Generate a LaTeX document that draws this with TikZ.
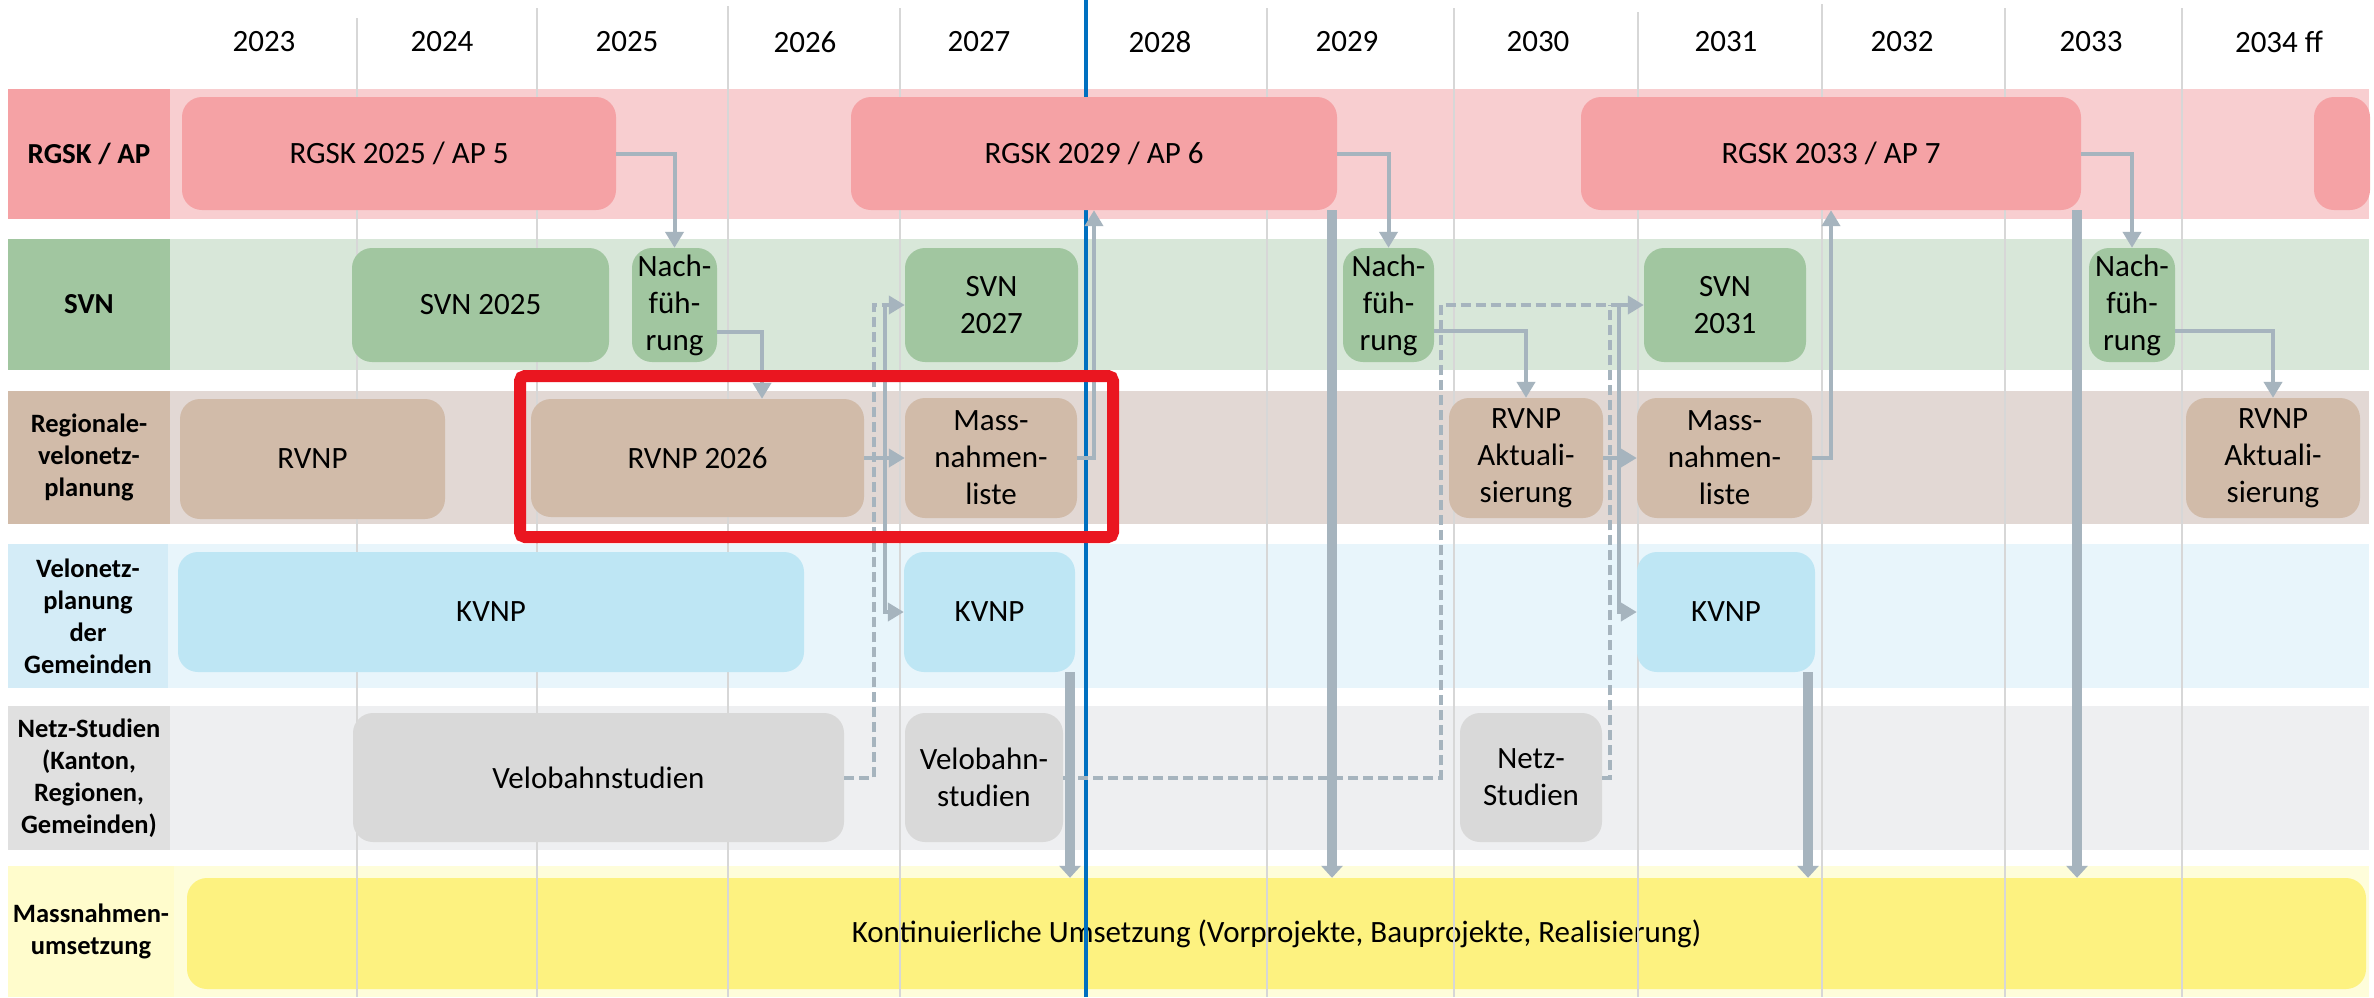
\documentclass[tikz,border=0pt]{standalone}
\usepackage{fontspec}
\setmainfont{Carlito}
\usetikzlibrary{arrows.meta}
\definecolor{rgskband}{RGB}{248,206,208}
\definecolor{rgskbox}{RGB}{245,162,165}
\definecolor{svnband}{RGB}{216,231,217}
\definecolor{svnbox}{RGB}{161,198,160}
\definecolor{rvnpband}{RGB}{226,216,212}
\definecolor{rvnpbox}{RGB}{209,187,169}
\definecolor{kvnpband}{RGB}{232,245,251}
\definecolor{kvnplab}{RGB}{212,236,247}
\definecolor{kvnpbox}{RGB}{190,230,244}
\definecolor{netzband}{RGB}{238,239,241}
\definecolor{netzlab}{RGB}{224,224,224}
\definecolor{netzbox}{RGB}{217,217,217}
\definecolor{massband}{RGB}{254,253,218}
\definecolor{masslab}{RGB}{255,252,204}
\definecolor{massbox}{RGB}{253,242,128}
\definecolor{arrgray}{RGB}{166,180,190}
\definecolor{gridgray}{RGB}{215,215,215}
\definecolor{todayblue}{RGB}{0,112,192}
\definecolor{markred}{RGB}{234,22,32}
\newcommand\boxfnt{\fontsize{31}{37}\selectfont}
\newcommand\labfnt{\fontsize{26.5}{32}\selectfont\bfseries}
\newcommand\labbig{\fontsize{29}{34}\selectfont\bfseries}
\newcommand\mybox[7]{\node[#6, minimum width={(#4)-(#2)}, minimum height={(#5)-(#3)}] (#1) at ({((#2)+(#4))/2},{((#3)+(#5))/2}) {#7};}
\begin{document}
\begin{tikzpicture}[x=1pt,y=-1pt,
  bx/.style={rounded corners=20pt, inner sep=0pt, align=center, font=\boxfnt},
  lb/.style={inner sep=0pt, align=center, font=\labfnt},
  yr/.style={inner sep=0pt, font=\boxfnt},
  gridl/.style={draw=gridgray, line width=2pt},
  arr/.style={draw=arrgray, line width=4pt, -{Triangle[length=16pt,width=18pt]}},
  dsh/.style={draw=arrgray, line width=4pt, dash pattern=on 10pt off 5pt},
  thk/.style={draw=arrgray, line width=10pt, -{Triangle[length=12pt,width=21pt]}}]
\useasboundingbox (0,0) rectangle (2374,997);
\fill[white] (0,0) rectangle (2374,997);
% bands
\fill[rgskband] (170,89) rectangle (2369,219);
\fill[svnband] (170,239) rectangle (2369,370);
\fill[rvnpband] (170,391) rectangle (2369,524);
\fill[kvnpband] (168,544) rectangle (2369,688);
\fill[netzband] (170,706) rectangle (2369,850);
\fill[massband] (174,866) rectangle (2369,997);
% row labels
\mybox{lab1}{8}{89}{170}{219}{lb,fill=rgskbox,font=\labbig}{RGSK / AP}
\mybox{lab2}{8}{239}{170}{370}{lb,fill=svnbox,font=\labbig}{SVN}
\mybox{lab3}{8}{391}{170}{524}{lb,fill=rvnpbox}{Regionale-\\velonetz-\\planung}
\mybox{lab4}{8}{544}{168}{688}{lb,fill=kvnplab}{Velonetz-\\planung\\der\\Gemeinden}
\mybox{lab5}{8}{706}{170}{850}{lb,fill=netzlab}{Netz-Studien\\(Kanton,\\Regionen,\\Gemeinden)}
\mybox{lab6}{8}{866}{174}{997}{lb,fill=masslab}{Massnahmen-\\umsetzung}
% implementation box
\mybox{um}{187}{878}{2366}{989}{bx,fill=massbox}{Kontinuierliche Umsetzung (Vorprojekte, Bauprojekte, Realisierung)}
% grid lines
\foreach \gx/\gy in {357/18,537/8,728/6,900/8,1267/8,1454/8,1638/12,1822/4,2005/8,2182/8}
  \draw[gridl] (\gx,\gy) -- (\gx,997);
\draw[todayblue, line width=4pt] (1086,0) -- (1086,997);
% years
\foreach \yx/\yt [count=\i] in {264/2023,442/2024,627/2025,805/2026,979/2027,1160/2028,1347/2029,1538/2030,1726/2031,1902/2032,2091/2033,2279/2034 ff}
  \node[yr] (yr\i) at (\yx,42) {\yt};
% RGSK row
\mybox{r25}{182}{97}{616}{210}{bx,fill=rgskbox}{RGSK 2025 / AP 5}
\mybox{r29}{851}{97}{1337}{210}{bx,fill=rgskbox}{RGSK 2029 / AP 6}
\mybox{r33}{1581}{97}{2081}{210}{bx,fill=rgskbox}{RGSK 2033 / AP 7}
\mybox{r37}{2314}{97}{2370}{210}{bx,fill=rgskbox}{}
% SVN row
\mybox{svn25}{352}{248}{609}{362}{bx,fill=svnbox}{SVN 2025}
\mybox{nf1}{632}{248}{717}{362}{bx,fill=svnbox}{Nach-\\füh-\\rung}
\mybox{svn27}{905}{248}{1078}{362}{bx,fill=svnbox}{SVN\\2027}
\mybox{nf2}{1343}{248}{1434}{362}{bx,fill=svnbox}{Nach-\\füh-\\rung}
\mybox{svn31}{1644}{248}{1806}{362}{bx,fill=svnbox}{SVN\\2031}
\mybox{nf3}{2089}{248}{2175}{362}{bx,fill=svnbox}{Nach-\\füh-\\rung}
% RVNP row
\mybox{rvnp}{180}{399}{445}{519}{bx,fill=rvnpbox}{RVNP}
\mybox{rvnp26}{531}{399}{864}{517}{bx,fill=rvnpbox}{RVNP 2026}
\mybox{ml1}{905}{398}{1077}{518}{bx,fill=rvnpbox}{Mass-\\nahmen-\\liste}
\mybox{ra1}{1449}{398}{1603}{518}{bx,fill=rvnpbox}{RVNP\\Aktuali-\\sierung}
\mybox{ml2}{1637}{398}{1812}{518}{bx,fill=rvnpbox}{Mass-\\nahmen-\\liste}
\mybox{ra2}{2186}{398}{2360}{518}{bx,fill=rvnpbox}{RVNP\\Aktuali-\\sierung}
% KVNP row
\mybox{k1}{178}{552}{804}{672}{bx,fill=kvnpbox}{KVNP}
\mybox{k2}{904}{552}{1075}{672}{bx,fill=kvnpbox}{KVNP}
\mybox{k3}{1637}{552}{1815}{672}{bx,fill=kvnpbox}{KVNP}
% Netz row
\mybox{vb1}{353}{713}{844}{842}{bx,fill=netzbox}{Velobahnstudien}
\mybox{vb2}{905}{713}{1063}{842}{bx,fill=netzbox}{Velobahn-\\studien}
\mybox{ns}{1460}{713}{1602}{842}{bx,fill=netzbox}{Netz-\\Studien}
% junctions
\coordinate (j1) at (885,458);
\coordinate (d1) at (874,305);
\coordinate (j2) at (1619,458);
\coordinate (d2) at (1441,305);
\coordinate (d3) at (1610,305);
% dashed connectors
\draw[dsh] (vb1.east) -| (d1) -- (j1 |- svn27.west);
\draw[dsh] (vb2.east) -| (d2) -- (j2 |- svn31.west);
\draw[dsh] (ns.east) -| (d3);
% solid connectors
\draw[arr] (r25.east) -| (nf1.north);
\draw[arr] ([yshift=-27pt]nf1.east) -| ([xshift=64.5pt]rvnp26.north);
\draw[arr] (rvnp26.east) -- (ml1.west);
\draw[arr] (j1) |- (svn27.west);
\draw[arr] (j1) |- (k2.west);
\draw[arr] (ml1.east) -| (r29.south);
\draw[arr] (r29.east) -| (nf2.north);
\draw[arr] ([yshift=-26pt]nf2.east) -| (ra1.north);
\draw[arr] (ra1.east) -- (ml2.west);
\draw[arr] (j2) |- (svn31.west);
\draw[arr] (j2) |- (k3.west);
\draw[arr] (ml2.east) -| (r33.south);
\draw[arr] (r33.east) -| (nf3.north);
\draw[arr] ([yshift=-26pt]nf3.east) -| (ra2.north);
% thick connectors to implementation
\coordinate (t1) at (1070,672);
\coordinate (t2) at (1332,210);
\coordinate (t3) at (1808,672);
\coordinate (t4) at (2077,210);
\draw[thk] (t1) -- (t1 |- um.north);
\draw[thk] (t2) -- (t2 |- um.north);
\draw[thk] (t3) -- (t3 |- um.north);
\draw[thk] (t4) -- (t4 |- um.north);
% highlight
\draw[markred, line width=12pt, rounded corners=5pt] (520,376) rectangle (1113,537);
\end{tikzpicture}
\end{document}
